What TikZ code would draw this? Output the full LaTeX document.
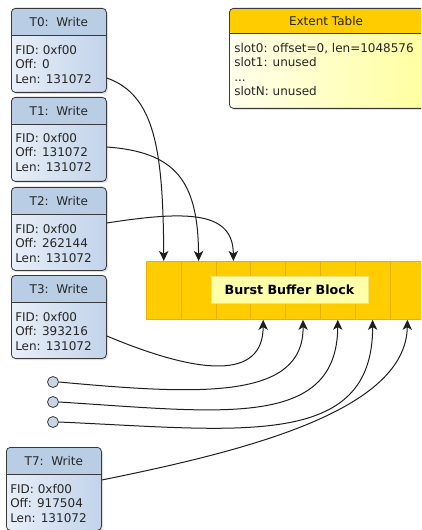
\documentclass[tikz,border=0pt]{standalone}
\usepackage{fontspec}
\setmainfont{DejaVu Sans}
\usetikzlibrary{arrows.meta,shadows,calc}
\definecolor{hdrblue}{HTML}{B9CDE5}
\definecolor{bodyL}{HTML}{E8EFF8}
\definecolor{bodyR}{HTML}{C2D3EA}
\definecolor{edgec}{HTML}{3A3A3A}
\definecolor{gold}{HTML}{FFCC00}
\definecolor{goldedge}{HTML}{E3B300}
\definecolor{paleY}{HTML}{FFFFEC}
\definecolor{midY}{HTML}{FFFF9E}
\definecolor{lblY}{HTML}{FFFFAA}
\definecolor{lblE}{HTML}{F2E27A}
\definecolor{dotc}{HTML}{C9D5E5}
\definecolor{linec}{HTML}{1E1E1E}
\definecolor{textc}{HTML}{262626}
\begin{document}
\begin{tikzpicture}[x=0.75pt,y=-0.75pt,
  txt/.style={font=\fontsize{9}{10.9}\selectfont, inner sep=0pt, text=textc},
  wbox/.style={draw=edgec, line width=0.6pt, rounded corners=3pt,
    left color=bodyL, right color=bodyR, minimum width=71.25pt,
    minimum height=#1, anchor=north west, inner sep=0pt,
    drop shadow={shadow xshift=1.2pt, shadow yshift=-1.2pt, opacity=0.25},
    path picture={
      \fill[hdrblue] (path picture bounding box.north west) rectangle
        ([yshift=-20.5pt]path picture bounding box.north east);
      \draw[edgec, line width=0.6pt] ([yshift=-20.5pt]path picture bounding box.north west) --
        ([yshift=-20.5pt]path picture bounding box.north east);}},
  ebox/.style={draw=edgec, line width=0.6pt, rounded corners=3pt,
    left color=paleY, right color=midY, minimum width=150pt,
    minimum height=75pt, anchor=north west, inner sep=0pt,
    drop shadow={shadow xshift=1.2pt, shadow yshift=-1.2pt, opacity=0.25},
    path picture={
      \fill[gold] (path picture bounding box.north west) rectangle
        ([yshift=-18.75pt]path picture bounding box.north east);
      \draw[edgec, line width=0.6pt] ([yshift=-18.75pt]path picture bounding box.north west) --
        ([yshift=-18.75pt]path picture bounding box.north east);}},
  cell/.style={draw=goldedge, line width=0.6pt, fill=gold, minimum width=26.1pt,
    minimum height=43.5pt, anchor=north west, inner sep=0pt},
  lblbox/.style={draw=lblE, line width=0.6pt, fill=lblY, minimum width=117.75pt,
    minimum height=20.25pt, inner sep=0pt, font=\fontsize{9.5}{11}\selectfont\bfseries},
  dot/.style={circle, draw=edgec, line width=0.6pt, fill=dotc, minimum size=8.25pt, inner sep=0pt},
  conn/.style={draw=linec, line width=0.75pt, -{Stealth[length=7.5pt,width=7pt,inset=2pt]}}
]
\useasboundingbox (0,0) rectangle (421,530);
\clip (0,0) rectangle (421,530);

% Write boxes
\node[wbox=63pt] (t0) at (11,8) {};
\node[txt] (t0t) at ($(t0.north)+(0,14)$) {T0:\ \ Write};
\node[txt, anchor=north west, align=left] (t0x) at ($(t0.north west)+(4,37)$) {FID: 0xf00\\Off: 0\\Len: 131072};

\node[wbox=63pt] (t1) at (11,97) {};
\node[txt] (t1t) at ($(t1.north)+(0,14)$) {T1:\ \ Write};
\node[txt, anchor=north west, align=left] (t1x) at ($(t1.north west)+(4,36)$) {FID: 0xf00\\Off: 131072\\Len: 131072};

\node[wbox=62.25pt] (t2) at (11,187) {};
\node[txt] (t2t) at ($(t2.north)+(0,14)$) {T2:\ \ Write};
\node[txt, anchor=north west, align=left] (t2x) at ($(t2.north west)+(4,37)$) {FID: 0xf00\\Off: 262144\\Len: 131072};

\node[wbox=62.25pt] (t3) at (11,275) {};
\node[txt] (t3t) at ($(t3.north)+(0,14)$) {T3:\ \ Write};
\node[txt, anchor=north west, align=left] (t3x) at ($(t3.north west)+(4,37)$) {FID: 0xf00\\Off: 393216\\Len: 131072};

\node[wbox=62.25pt] (t7) at (6,447) {};
\node[txt] (t7t) at ($(t7.north)+(0,14)$) {T7:\ \ Write};
\node[txt, anchor=north west, align=left] (t7x) at ($(t7.north west)+(4,37)$) {FID: 0xf00\\Off: 917504\\Len: 131072};

% Extent table
\node[ebox] (et) at (229,8) {};
\node[txt] (ett) at ($(et.north west)+(97,13)$) {Extent Table};
\node[txt, anchor=north west, align=left] (etx) at ($(et.north west)+(5,35)$) {slot0: offset=0, len=1048576\\slot1: unused\\...\\slotN: unused};

% Burst buffer block
\node[cell] (c1) at (146,261) {};
\node[cell] (c2) at (180.8,261) {};
\node[cell] (c3) at (215.6,261) {};
\node[cell] (c4) at (250.4,261) {};
\node[cell] (c5) at (285.2,261) {};
\node[cell] (c6) at (320,261) {};
\node[cell] (c7) at (354.8,261) {};
\node[cell] (c8) at (389.6,261) {};
\node[lblbox] (bbl) at (289.5,289.5) {Burst Buffer Block};

% loose ends
\node[dot] (p1) at (53,382) {};
\node[dot] (p2) at (53,402) {};
\node[dot] (p3) at (53,422) {};

% connectors
\draw[conn] ($(t0.north east)+(0,70)$) .. controls (155,95) and (163,150) .. (c1.north);
\draw[conn] ($(t1.north east)+(0,50)$) .. controls (175,152) and (198,180) .. (c2.north);
\draw[conn] ($(t2.north east)+(0,36)$) .. controls (190,210) and (233,212) .. (c3.north);
\draw[conn] ($(t3.north east)+(0,61)$) .. controls (200,375) and (263,380) .. ($(c4.south)+(-5,0)$);
\draw[conn] (p1.east) .. controls (200,395) and (304,400) .. (c5.south);
\draw[conn] (p2.east) .. controls (220,412) and (337,430) .. (c6.south);
\draw[conn] (p3.east) .. controls (240,430) and (373,450) .. (c7.south);
\draw[conn] ($(t7.north east)+(0,33)$) .. controls (250,450) and (406,410) .. (c8.south);
\end{tikzpicture}
\end{document}
